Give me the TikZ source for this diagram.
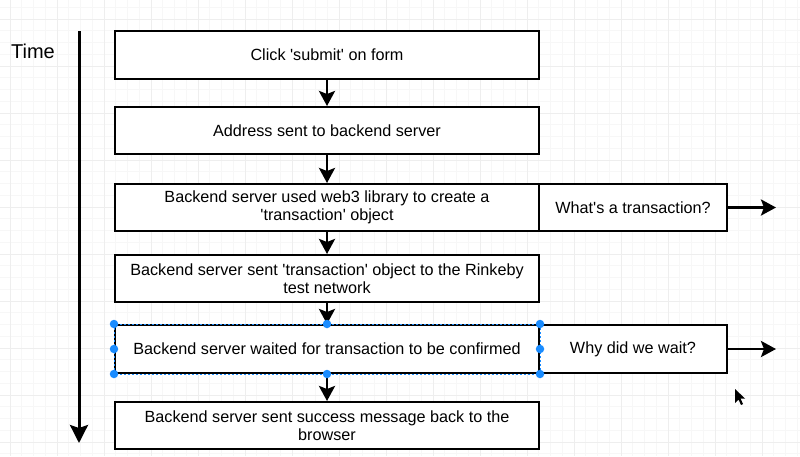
\documentclass[tikz,border=0pt]{standalone}
\usepackage{fontspec}
\setmainfont{Liberation Sans}
\usetikzlibrary{arrows.meta}
\definecolor{gridmajor}{HTML}{EEEEEE}
\definecolor{gridminor}{HTML}{F7F7F7}
\definecolor{selblue}{HTML}{1A8CFF}
\newcommand{\q}{\textquotesingle}
\tikzset{
  box/.style={draw=black, line width=2pt, fill=white, rectangle, inner sep=2pt,
    align=center, font=\fontsize{16.2}{18.5}\selectfont},
  flow/.style={line width=2.8pt, -{Stealth[length=15pt,width=16pt,inset=3pt]}},
  timeaxis/.style={line width=3pt, -{Stealth[length=18pt,width=18pt,inset=3pt]}},
  handle/.style={circle, fill=selblue, inner sep=0pt, minimum size=8.5pt},
  seloutline/.style={draw=selblue, line width=1pt, dashed, dash pattern=on 2pt off 2pt}
}
\begin{document}
\begin{tikzpicture}[x=1pt,y=-1pt]
\useasboundingbox (0,0) rectangle (800,456);
\fill[white] (0,0) rectangle (800,456);
% grid
\foreach \i in {0,...,70} {
  \draw[gridminor, line width=0.6pt] ({10+11.75*(\i-1)},0) -- ({10+11.75*(\i-1)},456);
}
\foreach \i in {0,...,40} {
  \draw[gridminor, line width=0.6pt] (0,{19+11.75*(\i-2)}) -- (800,{19+11.75*(\i-2)});
}
\foreach \i in {0,...,17} {
  \draw[gridmajor, line width=1pt] ({10+47*\i},0) -- ({10+47*\i},456);
}
\foreach \i in {-1,...,10} {
  \draw[gridmajor, line width=1pt] (0,{19+47*\i}) -- (800,{19+47*\i});
}
% time axis
\node[font=\fontsize{20}{22}\selectfont] (time) at (33,51) {Time};
\coordinate (t0) at (79,31);
\coordinate (t1) at (79,443);
\draw[timeaxis] (t0) -- (t1);
% boxes
\node[box, minimum width=424pt, minimum height=48pt] (b1) at (327,55) {Click \q submit\q{} on form};
\node[box, minimum width=424pt, minimum height=47pt] (b2) at (327,130.5) {Address sent to backend server};
\node[box, minimum width=424pt, minimum height=47pt] (b3) at (327,207.5) {Backend server used web3 library to create a\\\q transaction\q{} object};
\node[box, minimum width=188pt, minimum height=47pt] (q1) at (633,207.5) {What\q s a transaction?};
\node[box, minimum width=424pt, minimum height=47pt] (b4) at (327,278.5) {Backend server sent \q transaction\q{} object to the Rinkeby\\test network};
\node[box, minimum width=424pt, minimum height=48pt] (b5) at (327,349) {Backend server waited for transaction to be confirmed};
\node[box, minimum width=188pt, minimum height=48pt] (q2) at (633,349) {Why did we wait?};
\node[box, minimum width=424pt, minimum height=47pt] (b6) at (327,425.5) {Backend server sent success message back to the\\browser};
% connectors
\draw[flow] (b1.south) -- (b2.north);
\draw[flow] (b2.south) -- (b3.north);
\draw[flow] (b3.south) -- (b4.north);
\draw[flow] (b4.south) -- (b5.north);
\draw[flow] (b5.south) -- (b6.north);
\coordinate (e1) at (776,207.5);
\coordinate (e2) at (776,349);
\draw[flow] (q1.east) -- (e1);
\draw[flow] (q2.east) -- (e2);
% selection
\draw[seloutline] (b5.north west) rectangle (b5.south east);
\foreach \a in {north west,north,north east,west,east,south west,south,south east} {
  \node[handle] at (b5.\a) {};
}
% mouse pointer
\fill[black] (735,389) -- (735,403) -- (738.5,399.5) -- (741,405) -- (743,404) -- (740.5,398.5) -- (745,398.5) -- cycle;
\end{tikzpicture}
\end{document}
